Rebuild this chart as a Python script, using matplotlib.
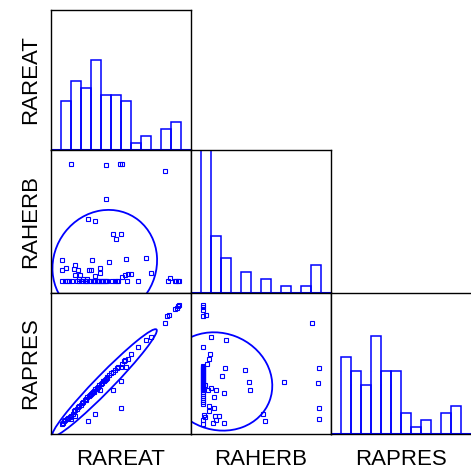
import numpy as np
import matplotlib
matplotlib.use("Agg")
import matplotlib.pyplot as plt
from matplotlib.patches import Ellipse

plt.rcParams['font.family'] = ['Liberation Sans', 'DejaVu Sans']

names = ['RAREAT', 'RAHERB', 'RAPRES']

# histogram counts, 12 bins each (bin edges 0..12)
bin_edges = np.arange(13)
rareat_counts = [7, 10, 9, 13, 8, 8, 7, 1, 2, 0, 3, 4]
raherb_counts = [48, 8, 5, 0, 3, 0, 2, 0, 1, 0, 1, 4]
rapres_counts = [11, 9, 7, 14, 9, 9, 3, 1, 2, 0, 3, 4]

# RAREAT (x) vs RAHERB (y)
eat_herb_x = [1.0, 4.53, 5.93, 6.07, 10.43, 4.53, 2.67, 3.4, 5.17, 5.97, 5.5,
              0.1, 3.13, 4.83, 6.5, 8.47, 1.4, 0.5, 0.1, 1.3, 1.7, 3.9, 2.77,
              3.9, 1.4, 1.87, 3.43, 8.97, 6.1, 6.43, 6.73, 6.97, 10.9,
              0.1, 0.43, 0.83, 1.1, 1.63, 1.83, 2.1, 2.37, 2.63, 2.9, 3.17,
              3.43, 3.7, 3.97, 4.23, 4.5, 5.1, 5.37, 5.7, 7.7, 10.7, 11.37,
              11.77, 2.23, 1.83, 2.63,
              0.6, 2.5, 3.3, 3.57, 3.83, 4.1, 4.37, 4.63, 5.6, 6.6, 11.5,
              11.65, 3.0]
eat_herb_y = [11.65, 11.52, 11.65, 11.65, 10.9, 8.22, 6.29, 6.09, 4.78, 4.78,
              4.33, 2.27, 2.24, 2.01, 2.37, 2.46, 1.75, 1.42, 1.22, 1.32, 1.22,
              1.45, 1.22, 0.96, 0.8, 0.8, 0.7, 0.99, 0.54, 0.76, 0.9, 0.86,
              0.44, 0.21, 0.21, 0.21, 0.21, 0.21, 0.21, 0.21, 0.21, 0.21,
              0.21, 0.21, 0.21, 0.21, 0.21, 0.21, 0.21, 0.21, 0.21, 0.21,
              0.21, 0.21, 0.21, 0.21, 0.41, 0.41, 0.41,
              0.21, 0.21, 0.21, 0.21, 0.21, 0.21, 0.21, 0.21, 0.21, 0.21,
              0.21, 0.21, 1.3]

# RAREAT (x) vs RAPRES (y)
eat_pres_x = [11.77, 11.4, 10.83, 10.63, 10.43, 8.97, 8.47, 7.7, 6.97, 6.73,
              6.43, 6.1, 5.97, 5.7, 5.57, 5.43, 5.17, 5.03, 4.77, 4.63, 4.5,
              4.37, 4.23, 3.97, 3.83, 3.9, 3.43, 3.3, 3.17, 3.03, 2.9, 2.77,
              2.63, 2.5, 2.37, 2.23, 2.1, 1.97, 1.83, 1.7, 1.57, 1.43, 1.3,
              1.17, 1.03, 0.9, 0.57, 0.43, 0.17, 0.1,
              6.5, 5.97, 5.17, 3.4, 6.03, 2.67, 1.03, 1.43,
              0.7, 0.3, 2.45, 3.1, 3.25, 3.55, 3.7, 3.6, 4.1, 4.3, 4.55,
              6.25, 11.6, 11.7]
eat_pres_y = [11.77, 11.37, 10.83, 10.7, 10.03, 8.63, 8.3, 7.63, 6.93, 6.4,
              6.3, 5.93, 5.67, 5.67, 5.53, 5.37, 5.17, 5.03, 4.83, 4.63, 4.5,
              4.37, 4.23, 3.97, 3.83, 3.4, 3.43, 3.3, 3.17, 2.97, 2.83, 2.77,
              2.63, 2.47, 2.37, 2.2, 2.03, 1.9, 1.77, 1.7, 1.53, 1.37, 1.27,
              0.97, 0.83, 0.7, 0.5, 0.43, 0.1, 0.03,
              5.63, 4.23, 3.37, 1.03, 1.57, 0.27, 0.53, 0.8,
              0.6, 0.25, 2.4, 3.05, 3.2, 3.5, 3.7, 3.55, 4.1, 4.3, 4.55,
              6.2, 11.55, 11.7]

# RAHERB (x) vs RAPRES (y)
herb_pres_x = [0.17, 0.17, 0.17, 0.17, 0.47, 11.1, 1.0, 2.5, 0.17, 0.87, 0.83,
               0.57, 2.43, 4.4, 11.8, 2.07, 4.83, 8.3, 11.67, 1.0, 0.67, 1.47,
               4.87, 2.3, 0.4, 1.27, 0.77, 1.27, 0.8, 11.83, 0.27, 0.37, 1.37,
               1.77, 1.47, 0.17, 0.17, 1.2, 2.27, 6.17, 6.4, 11.8,
               0.17, 0.17, 0.17, 0.17, 0.17, 0.17, 0.17, 0.17, 0.17, 0.17,
               0.17, 0.17, 0.17, 0.17, 0.17, 0.17, 0.17, 0.17, 0.17, 0.17,
               0.17, 0.17, 0.17, 0.17, 0.17, 0.17, 0.17, 0.17, 0.17, 0.17,
               0.17, 0.17]
herb_pres_y = [11.8, 11.57, 11.33, 10.73, 10.8, 10.03, 8.67, 8.33, 7.67, 6.93,
               6.43, 5.93, 5.6, 5.37, 5.6, 4.77, 4.2, 4.2, 4.07, 3.57, 3.4, 3.37,
               3.33, 3.1, 3.9, 2.7, 1.8, 1.6, 1.33, 1.57, 0.9, 0.73, 0.8, 0.8,
               0.43, 0.43, 0.03, 0.07, 0.07, 1.03, 0.27, 0.53,
               5.77, 5.57, 5.37, 5.17, 4.97, 4.77, 4.57, 4.37, 4.17, 3.97,
               3.77, 3.57, 3.37, 3.17, 2.97, 2.77, 2.57, 2.37, 2.17, 1.97,
               5.67, 5.47, 5.27, 5.07, 4.87, 4.67, 4.47, 4.27, 4.07, 3.87,
               3.67, 3.47]

blue = '#0000ff'
k = 1.72


def add_ellipse(ax, x, y):
    x = np.asarray(x)
    y = np.asarray(y)
    cov = np.cov(x, y)
    vals, vecs = np.linalg.eigh(cov)
    order = vals.argsort()[::-1]
    vals, vecs = vals[order], vecs[:, order]
    angle = np.degrees(np.arctan2(vecs[1, 0], vecs[0, 0]))
    w, h = 2 * k * np.sqrt(vals)
    ax.add_patch(Ellipse((x.mean(), y.mean()), w, h, angle=angle,
                         fill=False, edgecolor=blue, lw=1.3))


fig = plt.figure(figsize=(4.71, 4.72), dpi=100)
W, H = 471.0, 472.0
col_left = [51, 191, 331]
col_w = 140
row_top = [10, 150, 293]
row_h = [140, 143, 141]

axes = {}
for r in range(3):
    for c in range(r + 1):
        ax = fig.add_axes([col_left[c] / W, (H - row_top[r] - row_h[r]) / H,
                           col_w / W, row_h[r] / H])
        ax.set_xlim(-1, 13)
        ax.set_xticks([])
        ax.set_yticks([])
        for s in ax.spines.values():
            s.set_linewidth(1.0)
            s.set_color('black')
        axes[(r, c)] = ax

counts = [rareat_counts, raherb_counts, rapres_counts]
for i in range(3):
    ax = axes[(i, i)]
    ax.bar(bin_edges[:-1], counts[i], width=1, align='edge',
           fill=False, edgecolor=blue, lw=1.1)
    ax.set_ylim(0, 20.2)
    ax.axhline(0, color=blue, lw=1.5)
axes[(2, 2)].spines['right'].set_visible(False)

pairs = {(1, 0): (eat_herb_x, eat_herb_y),
         (2, 0): (eat_pres_x, eat_pres_y),
         (2, 1): (herb_pres_x, herb_pres_y)}
for (r, c), (x, y) in pairs.items():
    ax = axes[(r, c)]
    ax.set_ylim(-1, 13)
    ax.plot(x, y, 's', ms=2.8, mfc='none', mec=blue, mew=0.8)
    add_ellipse(ax, x, y)

for i in range(3):
    axes[(2, i)].set_xlabel(names[i], fontsize=16, labelpad=11)
    axes[(i, 0)].set_ylabel(names[i], fontsize=16, labelpad=7)

fig.savefig('out.png', dpi=100)
